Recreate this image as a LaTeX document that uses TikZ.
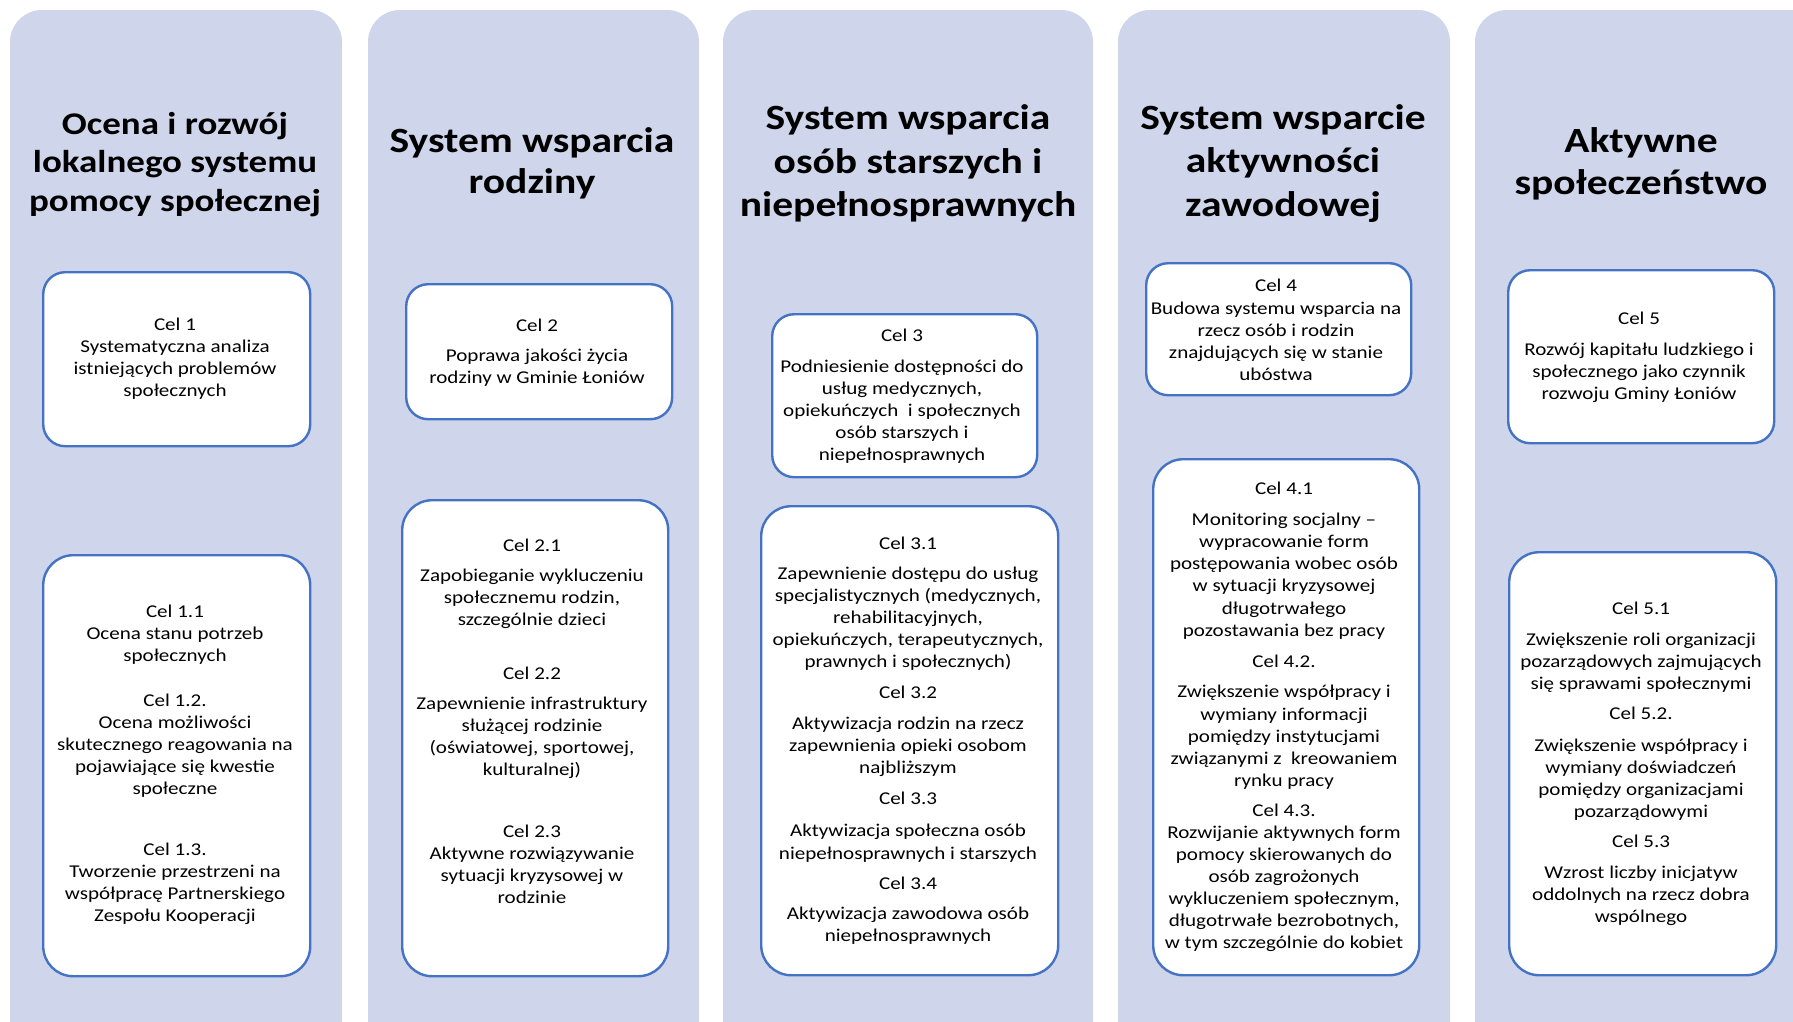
\documentclass[tikz,border=0pt]{standalone}
\usepackage{fontspec}
\setmainfont[FakeStretch=1.17]{Carlito}
\definecolor{colfill}{HTML}{CFD5EA}
\definecolor{boxline}{HTML}{4472C4}
\begin{document}
\begin{tikzpicture}[x=1pt,y=-1pt,
  column/.style={fill=colfill,draw=none,rounded corners=32pt},
  goalbox/.style={draw=boxline,fill=white,line width=2.4pt,rounded corners=#1,inner sep=0pt,anchor=north west},
  goalbox/.default=22pt,
  body/.style={align=center,inner sep=0pt,font=\fontsize{18}{22.1}\selectfont},
  head/.style={align=center,inner sep=0pt,font=\bfseries\fontsize{35.5}{43}\selectfont}]
\useasboundingbox (0,0) rectangle (1793,1021);
\begin{scope}
\clip (0,0) rectangle (1793,1021);
\fill[column] (10,10) rectangle (342,1060);
\fill[column] (368,10) rectangle (699,1060);
\fill[column] (723,10) rectangle (1093,1060);
\fill[column] (1118,10) rectangle (1450,1060);
\fill[column] (1475,10) rectangle (1830,1060);
\end{scope}
% headings
\node[head,font=\bfseries\fontsize{31.6}{38.9}\selectfont] (h1) at (175,164.5) {Ocena i rozwój\\lokalnego systemu\\pomocy społecznej};
\node[head,font=\bfseries\fontsize{35.5}{41.5}\selectfont] (h2) at (532,163.5) {System wsparcia\\rodziny};
\node[head,font=\bfseries\fontsize{35.5}{43.5}\selectfont] (h3) at (908,163.5) {System wsparcia\\osób starszych i\\niepełnosprawnych};
\node[head,font=\bfseries\fontsize{35.5}{43.5}\selectfont] (h4) at (1283,163.5) {System wsparcie\\aktywności\\zawodowej};
\node[head,font=\bfseries\fontsize{35.5}{42.3}\selectfont] (h5) at (1641,163.5) {Aktywne\\społeczeństwo};
% boxes
\node[goalbox,minimum width=267pt,minimum height=174pt] (b1a) at (42,271) {};
\node[goalbox=30pt,minimum width=267pt,minimum height=421pt] (b1b) at (42,554) {};
\node[goalbox,minimum width=266pt,minimum height=135pt] (b2a) at (405,283) {};
\node[goalbox=30pt,minimum width=266pt,minimum height=476pt] (b2b) at (401,499) {};
\node[goalbox,minimum width=265pt,minimum height=163pt] (b3a) at (771,313) {};
\node[goalbox=30pt,minimum width=297pt,minimum height=469pt] (b3b) at (760,505) {};
\node[goalbox,minimum width=265pt,minimum height=132pt] (b4a) at (1145,262) {};
\node[goalbox=30pt,minimum width=266pt,minimum height=516pt] (b4b) at (1152,458) {};
\node[goalbox,minimum width=266pt,minimum height=173pt] (b5a) at (1507,269) {};
\node[goalbox=30pt,minimum width=267pt,minimum height=423pt] (b5b) at (1508,551) {};
% texts
\node[body] (t1a) at (175,359) {Cel 1\\Systematyczna analiza\\istniejących problemów\\społecznych};
\node[body] (t1b) at (175,765) {Cel 1.1\\Ocena stanu potrzeb\\społecznych\\[22.5pt]Cel 1.2.\\Ocena możliwości\\skutecznego reagowania na\\pojawiające się kwestie\\społeczne\\[38.5pt]Cel 1.3.\\Tworzenie przestrzeni na\\współpracę Partnerskiego\\Zespołu Kooperacji};
\node[body] (t2a) at (537,352.5) {Cel 2\\[7.7pt]Poprawa jakości życia\\rodziny w Gminie Łoniów};
\node[body] (t2b) at (532,721.5) {Cel 2.1\\[7.7pt]Zapobieganie wykluczeniu\\społecznemu rodzin,\\szczególnie dzieci\\[31.7pt]Cel 2.2\\[7.7pt]Zapewnienie infrastruktury\\służącej rodzinie\\(oświatowej, sportowej,\\kulturalnej)\\[39.7pt]Cel 2.3\\Aktywne rozwiązywanie\\sytuacji kryzysowej w\\rodzinie};
\node[body] (t3a) at (902,396.5) {Cel 3\\[8.8pt]Podniesienie dostępności do\\usług medycznych,\\opiekuńczych\ \ i społecznych\\osób starszych i\\niepełnosprawnych};
\node[body] (t3b) at (908,741) {Cel 3.1\\[7.7pt]Zapewnienie dostępu do usług\\specjalistycznych (medycznych,\\rehabilitacyjnych,\\opiekuńczych, terapeutycznych,\\prawnych i społecznych)\\[8.8pt]Cel 3.2\\[8.8pt]Aktywizacja rodzin na rzecz\\zapewnienia opieki osobom\\najbliższym\\[8.8pt]Cel 3.3\\[10pt]Aktywizacja społeczna osób\\niepełnosprawnych i starszych\\[8.8pt]Cel 3.4\\[7.7pt]Aktywizacja zawodowa osób\\niepełnosprawnych};
\node[body] (t4a) at (1276,330) {Cel 4\\Budowa systemu wsparcia na\\rzecz osób i rodzin\\znajdujących się w stanie\\ubóstwa};
\node[body] (t4b) at (1284,717) {Cel 4.1\\[8.8pt]Monitoring socjalny –\\wypracowanie form\\postępowania wobec osób\\w sytuacji kryzysowej\\długotrwałego\\pozostawania bez pracy\\[8.8pt]Cel 4.2.\\[8.8pt]Zwiększenie współpracy i\\wymiany informacji\\pomiędzy instytucjami\\związanymi z\ \ kreowaniem\\rynku pracy\\[7.7pt]Cel 4.3.\\Rozwijanie aktywnych form\\pomocy skierowanych do\\osób zagrożonych\\wykluczeniem społecznym,\\długotrwałe bezrobotnych,\\w tym szczególnie do kobiet};
\node[body] (t5a) at (1639,357) {Cel 5\\[8.8pt]Rozwój kapitału ludzkiego i\\społecznego jako czynnik\\rozwoju Gminy Łoniów};
\node[body] (t5b) at (1641,763.5) {Cel 5.1\\[8.8pt]Zwiększenie roli organizacji\\pozarządowych zajmujących\\się sprawami społecznymi\\[7.7pt]Cel 5.2.\\[10pt]Zwiększenie współpracy i\\wymiany doświadczeń\\pomiędzy organizacjami\\pozarządowymi\\[7.7pt]Cel 5.3\\[8.8pt]Wzrost liczby inicjatyw\\oddolnych na rzecz dobra\\wspólnego};
\end{tikzpicture}
\end{document}
